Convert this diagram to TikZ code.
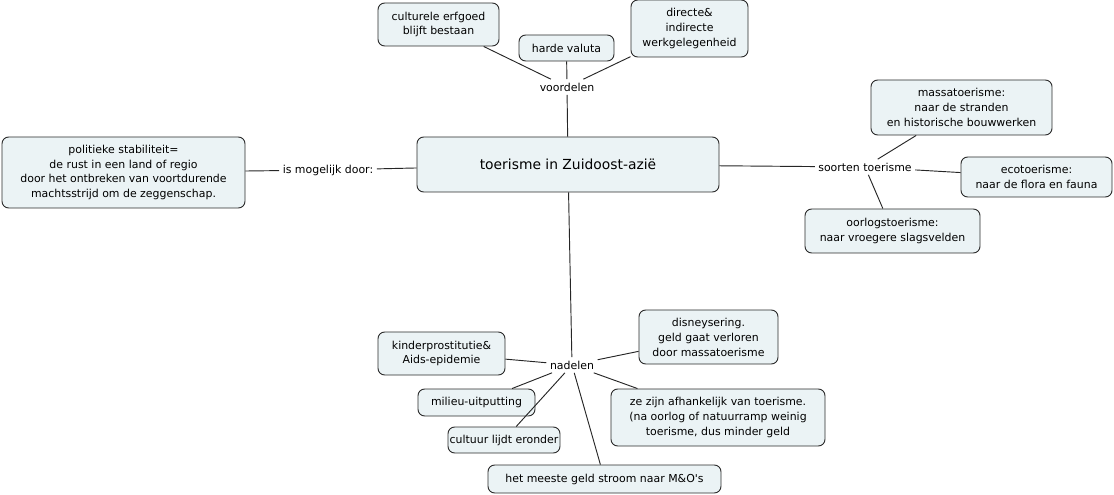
\documentclass[tikz,border=0pt]{standalone}
\usepackage{fontspec}
\setmainfont{DejaVu Sans}
\usepackage{tikz}
\definecolor{conceptfill}{HTML}{EBF3F5}
\definecolor{conceptline}{HTML}{2A2A2A}
\newcommand{\px}{0.75pt}
\tikzstyle{concept}=[draw=conceptline, fill=conceptfill, rounded corners=5pt, line width=0.7pt, inner sep=0pt, align=center, font=\fontsize{8.2}{11.2}\selectfont]
\tikzstyle{linkword}=[inner sep=2.5pt, align=center, font=\fontsize{8.2}{11.2}\selectfont]
\tikzstyle{link}=[draw=black!85, line width=0.7pt]
\tikzset{boxsize/.style 2 args={minimum width=#1*\px, minimum height=#2*\px}}

\begin{document}
\begin{tikzpicture}[x=\px, y=-\px]
    \useasboundingbox (0,0) rectangle (1114,495);

    %centre
    \node (main) at (568,164.5) [concept, boxsize={302}{55}, font=\fontsize{10.4}{12}\selectfont] {toerisme in Zuidoost-azië};

    %voordelen
    \node (voordelen) at (567,87) [linkword] {voordelen};
    \node (erfgoed) at (438.5,24.5) [concept, boxsize={121}{43}] {culturele erfgoed\\blijft bestaan};
    \node (valuta) at (566.5,48) [concept, boxsize={95}{26}] {harde valuta};
    \node (werk) at (689.5,28.5) [concept, boxsize={117}{57}] {directe\&\\indirecte\\werkgelegenheid};

    %stabiliteit
    \node (mogelijk) at (328,170) [linkword] {is mogelijk door:};
    \node (stabiel) at (123.5,172.5) [concept, boxsize={243}{71}] {politieke stabiliteit=\\de rust in een land of regio\\door het ontbreken van voortdurende\\machtsstrijd om de zeggenschap.};

    %soorten
    \node (soorten) at (865,167) [linkword] {soorten toerisme};
    \node (massa) at (961.5,107.5) [concept, boxsize={181}{55}] {massatoerisme:\\naar de stranden\\en historische bouwwerken};
    \node (eco) at (1036.5,177) [concept, boxsize={151}{40}] {ecotoerisme:\\naar de flora en fauna};
    \node (oorlog) at (892.5,231) [concept, boxsize={175}{44}] {oorlogstoerisme:\\naar vroegere slagsvelden};

    %nadelen
    \node (nadelen) at (572,365) [linkword] {nadelen};
    \node (kinder) at (441.5,353.5) [concept, boxsize={127}{43}] {kinderprostitutie\&\\Aids-epidemie};
    \node (disney) at (708.5,337) [concept, boxsize={139}{54}] {disneysering.\\geld gaat verloren\\door massatoerisme};
    \node (milieu) at (476.5,402.5) [concept, boxsize={117}{27}] {milieu-uitputting};
    \node (afhankelijk) at (718,417.5) [concept, boxsize={214}{57}] {ze zijn afhankelijk van toerisme.\\(na oorlog of natuurramp weinig\\toerisme, dus minder geld};
    \node (cultuur) at (504,440) [concept, boxsize={112}{26}] {cultuur lijdt eronder};
    \node (geld) at (604.5,479) [concept, boxsize={233}{28}] {het meeste geld stroom naar M\&O\textquotesingle s};

    %links
    \draw [link] (main) -- (voordelen);
    \foreach \n in {erfgoed,valuta,werk}{\draw [link] (voordelen) -- (\n);}
    \draw [link] (main) -- (mogelijk) -- (stabiel);
    \draw [link] (main) -- (soorten);
    \foreach \n in {massa,eco,oorlog}{\draw [link] (soorten) -- (\n);}
    \draw [link] (main) -- (nadelen);
    \foreach \n in {kinder,disney,milieu,afhankelijk,cultuur,geld}{\draw [link] (nadelen) -- (\n);}

\end{tikzpicture}
\end{document}
